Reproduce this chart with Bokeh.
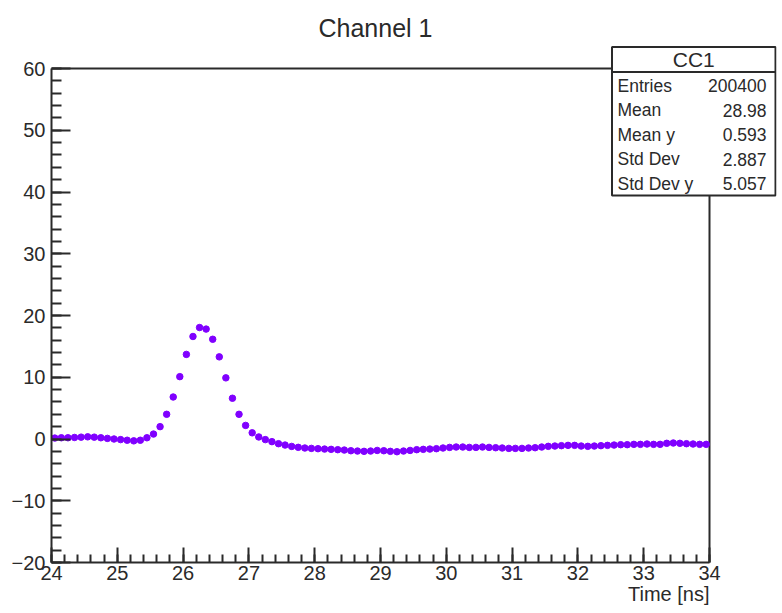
import numpy as np
from bokeh.plotting import figure
from bokeh.models import Range1d, FixedTicker, Title
from bokeh.core.properties import value
from bokeh.embed import file_html
from bokeh.resources import INLINE

# ---------------- data ----------------
time_ns = np.round(np.arange(24.05, 34.0, 0.1), 2)   # bin centres (0.1 ns bins)
amplitude = [
    0.15, 0.2, 0.2, 0.25, 0.3, 0.35, 0.3, 0.2, 0.1, 0.0,
    -0.1, -0.2, -0.3, -0.2, 0.2, 0.8, 2.0, 4.0, 6.8, 10.1,
    13.7, 16.6, 18.05, 17.8, 16.15, 13.3, 9.9, 6.6, 4.0, 2.2,
    1.0, 0.33, -0.1, -0.43, -0.76, -0.98, -1.2, -1.35,
    -1.46, -1.52, -1.57, -1.63, -1.68, -1.73, -1.79, -1.9, -1.95, -2.0,
    -1.95, -1.85, -1.9, -2.0, -2.06, -1.95, -1.85, -1.73, -1.68, -1.63,
    -1.57, -1.46, -1.36, -1.3, -1.3, -1.36, -1.36, -1.3, -1.36, -1.41,
    -1.46, -1.52, -1.52, -1.52, -1.46, -1.41, -1.3, -1.19, -1.14, -1.08,
    -1.03, -1.03, -1.14, -1.19, -1.14, -1.08, -1.03, -0.98, -0.92, -0.92,
    -0.87, -0.87, -0.81, -0.87, -0.87, -0.7, -0.65, -0.7, -0.76, -0.81,
    -0.87, -0.87,
]
x_ticks = list(range(24, 35))
x_minor = [round(24 + 0.2 * i, 1) for i in range(51)]
y_ticks = list(range(-20, 61, 10))
y_minor = list(range(-20, 61, 2))
title_text = "Channel 1"
x_label = "Time [ns]"
stats_name = "CC1"
stats_labels = ["Entries", "Mean", "Mean y", "Std Dev", "Std Dev y"]
stats_values = ["200400", "28.98", "0.593", "2.887", "5.057"]

# ---------------- layout ----------------
FONT = "Liberation Sans"
INK = "#2a2a2a"
W, H = 782, 613
AX_L, AX_R, AX_T, AX_B = 51, 709, 68, 562
FRAME_R = 776
X0, X1, Y0, Y1 = 24, 34, -20, 60
kx = (AX_R - AX_L) / (X1 - X0)
ky = (AX_B - AX_T) / (Y1 - Y0)


def xd(px):
    return X0 + (px - AX_L) / kx


def yd(py):
    return Y0 + (AX_B - py) / ky


p = figure(width=W, height=H,
           x_range=Range1d(X0, xd(FRAME_R)), y_range=Range1d(Y0, yd(0)),
           output_backend="svg", toolbar_location=None,
           min_border_left=AX_L, min_border_right=W - FRAME_R,
           min_border_top=0, min_border_bottom=H - AX_B)
p.grid.visible = False
p.outline_line_color = None
p.background_fill_color = "white"
p.border_fill_color = "white"

xa = p.xaxis[0]
xa.ticker = FixedTicker(ticks=x_ticks, minor_ticks=x_minor)
xa.bounds = (X0, X1)
xa.major_tick_in, xa.major_tick_out = 15, 0
xa.minor_tick_in, xa.minor_tick_out = 8, 0
xa.major_label_standoff = 3

ya = p.yaxis[0]
ya.ticker = FixedTicker(ticks=y_ticks, minor_ticks=y_minor)
ya.bounds = (Y0, Y1)
ya.major_tick_in, ya.major_tick_out = 19, 0
ya.minor_tick_in, ya.minor_tick_out = 10, 0
ya.major_label_standoff = 6
ya.major_label_overrides = {t: ("\u2212" + str(-t)) for t in y_ticks if t < 0}

for ax in (xa, ya):
    ax.axis_line_width = 2
    ax.axis_line_color = INK
    ax.major_tick_line_width = 2
    ax.major_tick_line_color = INK
    ax.minor_tick_line_width = 2
    ax.minor_tick_line_color = INK
    ax.major_label_text_font = FONT
    ax.major_label_text_font_size = "20px"
    ax.major_label_text_color = INK

# x axis title, ROOT style: right aligned at the end of the axis
p.add_layout(Title(text=x_label, align="right", offset=FRAME_R - AX_R,
                   vertical_align="top", standoff=0,
                   text_font=FONT, text_font_size="20px",
                   text_font_style="normal", text_color=INK), "below")

# frame top and right
p.line([X0, X1], [Y1, Y1], line_width=2, line_color=INK)
p.line([X1, X1], [Y0, Y1], line_width=2, line_color=INK)

# data
p.scatter(time_ns, amplitude, size=6.5, marker="circle",
          fill_color="#8000ff", line_color="#8000ff")

# title
p.text(x=[xd(375)], y=[yd(27)], text=[title_text], text_align="center",
       text_baseline="middle", text_font=value(FONT),
       text_font_size="25px", text_color=INK)

# stats box
BL, BR, BT, BB, BSEP = 611.5, 775, 46.5, 195, 71.5
p.quad(left=[xd(BL)], right=[xd(BR)], top=[yd(BT)], bottom=[yd(BB)],
       fill_color="white", line_color=INK, line_width=2)
p.line([xd(BL), xd(BR)], [yd(BSEP), yd(BSEP)], line_color=INK, line_width=2)
p.text(x=[xd((BL + BR) / 2)], y=[yd(59)], text=[stats_name],
       text_align="center", text_baseline="middle", text_font=value(FONT),
       text_font_size="21px", text_color=INK)
row_y = [yd(85 + 24.5 * i) for i in range(len(stats_labels))]
p.text(x=[xd(617)] * len(stats_labels), y=row_y, text=stats_labels,
       text_align="left", text_baseline="middle", text_font=value(FONT),
       text_font_size="17.5px", text_color=INK)
p.text(x=[xd(766)] * len(stats_values), y=row_y, text=stats_values,
       text_align="right", text_baseline="middle", text_font=value(FONT),
       text_font_size="17.5px", text_color=INK)

open("out.html", "w").write(file_html(p, INLINE))
